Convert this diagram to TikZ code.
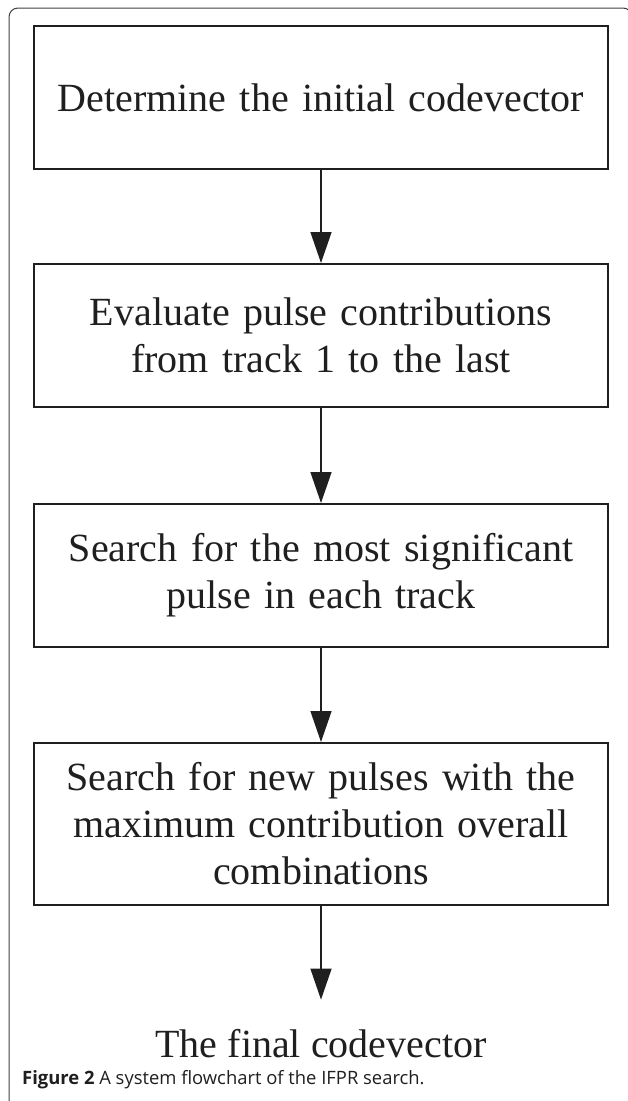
\documentclass[tikz,border=0pt]{standalone}
\usepackage{fontspec}
\setmainfont{Liberation Serif}
\newfontfamily\capfont{Open Sans}
\usepackage{tikz}
\usetikzlibrary{arrows.meta}
\definecolor{rahmen}{rgb}{0.25,0.25,0.25}
\definecolor{schrift}{rgb}{0.12,0.12,0.12}
\tikzstyle{stage} = [draw=schrift,line width=2pt,rectangle,minimum width=574pt,minimum height=143pt,inner sep=0pt,text width=560pt,align=center,font=\fontsize{40}{47}\selectfont,text=schrift]
\tikzstyle{result} = [inner sep=0pt,font=\fontsize{40}{47}\selectfont,text=schrift]
\tikzstyle{edge} = [line width=1.3pt,draw=schrift,-{Triangle[length=31pt,width=21pt]}]
\tikzstyle{frame} = [draw=rahmen,line width=1pt,rounded corners=9pt]

\begin{document}
\begin{tikzpicture}[x=1pt,y=-1pt]
\useasboundingbox (0,0) rectangle (627,1101);
\draw[frame] (9,8) rectangle (632,1125);

\node[stage] (D) at (321,97.5) {
	Determine the initial codevector
};
\node[stage] (E) at (321,335.5) {
	Evaluate pulse contributions\\from track 1 to the last
};
\node[stage] (S1) at (321,575.5) {
	Search for the most significant\\pulse in each track
};
\node[stage,minimum height=162pt] (S2) at (321,824) {
	Search for new pulses with the\\maximum contribution overall\\combinations
};
\node[result,anchor=base] (F) at (321,1057) {
	The final codevector
};

\draw[edge] (D) -- (E);
\draw[edge] (E) -- (S1);
\draw[edge] (S1) -- (S2);
\draw[edge,shorten >=29pt] (S2) -- (F);

\node[anchor=base west,inner sep=0pt] (cap) at (22,1084) {
	\capfont\fontsize{18.4}{21}\selectfont\color{schrift}\textbf{Figure 2} A system flowchart of the IFPR search.
};
\end{tikzpicture}
\end{document}
